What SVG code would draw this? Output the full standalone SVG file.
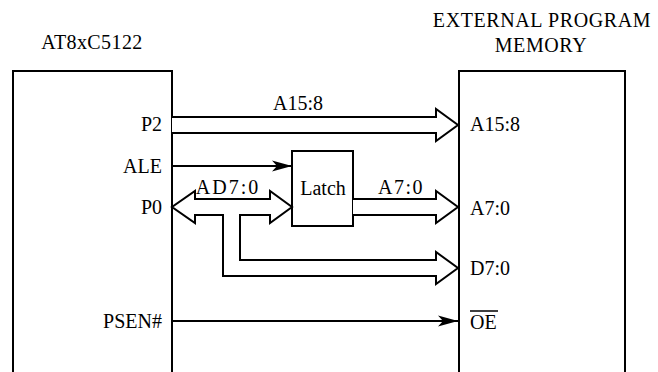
<svg xmlns="http://www.w3.org/2000/svg" width="658" height="372" viewBox="0 0 658 372">
<style>
text{font-family:"Liberation Serif","DejaVu Serif",serif;font-size:20px;fill:#000}
.box{fill:none;stroke:#000;stroke-width:2}
.bus{fill:#fff;stroke:#000;stroke-width:2;stroke-linejoin:miter}
.sig{fill:none;stroke:#000;stroke-width:2}
.r{text-anchor:end}
.m{text-anchor:middle}
</style>
<defs>
<marker id="ah" markerUnits="userSpaceOnUse" markerWidth="22" markerHeight="12" refX="20" refY="6" orient="auto">
<path d="M0,0.5 L20,6 L0,11.5 L5,6 Z" fill="#000"/>
</marker>
</defs>
<rect width="658" height="372" fill="#fff"/>
<g id="mcu">
<path class="box" d="M13,373 V71 H172 V373"/>
<text class="m" x="92" y="49" letter-spacing="0.4">AT8xC5122</text>
<text class="r" x="162" y="131" font-size="19">P2</text>
<text class="r" x="162" y="173">ALE</text>
<text class="r" x="162" y="214" font-size="19">P0</text>
<text class="r" x="162" y="328" font-size="19">PSEN#</text>
</g>
<g id="memory">
<path class="box" d="M459,373 V71 H625 V373"/>
<text class="m" x="542" y="27" letter-spacing="0.6">EXTERNAL PROGRAM</text>
<text class="m" x="541" y="52" letter-spacing="0.6">MEMORY</text>
<text x="470" y="131">A15:8</text>
<text x="470" y="215">A7:0</text>
<text x="470" y="275">D7:0</text>
<text x="470" y="329">OE</text>
<line x1="470" y1="311" x2="498" y2="311" stroke="#000" stroke-width="1.5"/>
</g>
<g id="latch">
<rect class="box" x="292" y="151" width="61" height="75"/>
<text class="m" x="323" y="195" font-size="19">Latch</text>
</g>
<g id="connectors">
<path class="bus" d="M172,117 H436 V109 L458,125 L436,141 V133 H172"/>
<text class="m" x="298" y="110">A15:8</text>
<line class="sig" x1="172" y1="166" x2="292" y2="166" marker-end="url(#ah)"/>
<path class="bus" d="M195,199 H270 V191 L292,207 L270,223 V215 H240 V260 H436 V252 L458,268 L436,284 V276 H223 V215 H195 V223 L172,207 L195,191 Z"/>
<text class="m" x="228" y="194" letter-spacing="2">AD7:0</text>
<path class="bus" d="M353,199 H436 V191 L458,207 L436,223 V215 H353"/>
<text class="m" x="401" y="194" letter-spacing="1.5">A7:0</text>
<line class="sig" x1="172" y1="321" x2="458" y2="321" marker-end="url(#ah)"/>
</g>
</svg>
